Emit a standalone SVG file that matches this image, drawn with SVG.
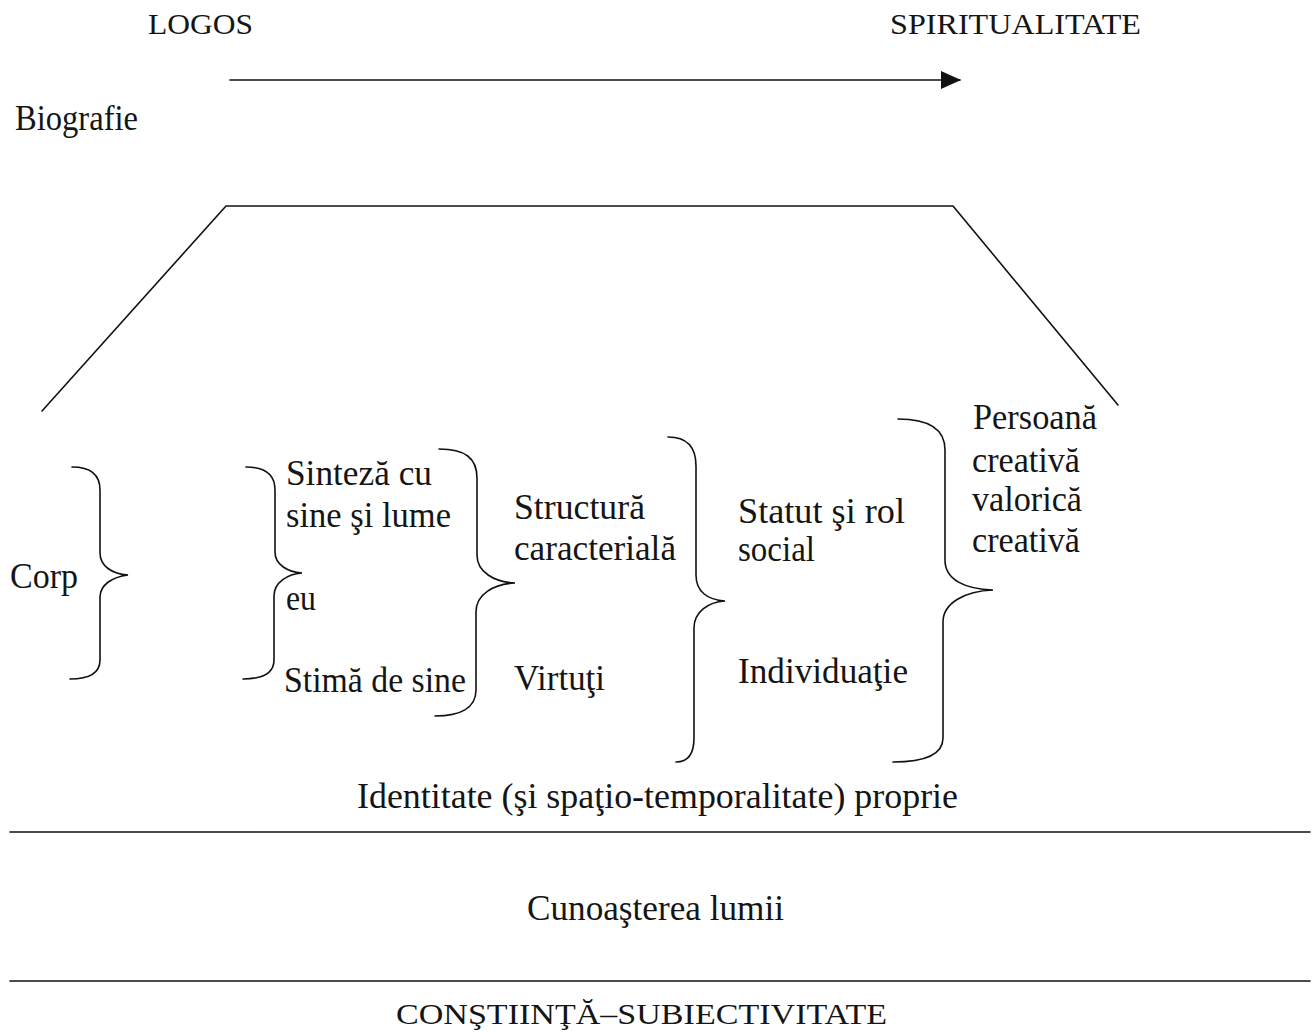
<svg xmlns="http://www.w3.org/2000/svg" width="1313" height="1032" viewBox="0 0 1313 1032">
  <style>
    text { font-family: "Liberation Serif", "DejaVu Serif", serif; fill: #151515; }
    .cap { font-size: 30px; }
    .lbl { font-size: 36px; }
    .ln { fill: none; stroke: #111; stroke-width: 1.6; stroke-linecap: round; stroke-linejoin: round; }
    .brace { fill: none; stroke: #111; stroke-width: 1.6; stroke-linecap: round; }
  </style>
  <defs>
    <marker id="head" viewBox="0 0 20 18" refX="19" refY="9" markerWidth="20" markerHeight="18" markerUnits="userSpaceOnUse" orient="auto">
      <path d="M0,0 L20,9 L0,18 Z" fill="#111"/>
    </marker>
  </defs>

  <rect width="1313" height="1032" fill="#fff"/>

  <!-- headings -->
  <g id="logos"><text class="cap" x="148" y="34" textLength="105" lengthAdjust="spacingAndGlyphs">LOGOS</text></g>
  <g id="spiritualitate"><text class="cap" x="890" y="34" textLength="251" lengthAdjust="spacingAndGlyphs">SPIRITUALITATE</text></g>
  <g id="biografie"><text class="lbl" x="15" y="130" textLength="123" lengthAdjust="spacingAndGlyphs">Biografie</text></g>

  <!-- connectors: direction arrow, frame, separators and braces -->
  <g id="connectors">
    <line class="ln" x1="230" y1="80" x2="960" y2="80" marker-end="url(#head)"/>
    <polyline class="ln" points="42,411 226,206 953,206 1118,405"/>
    <line class="ln" x1="10" y1="832" x2="1310" y2="832"/>
    <line class="ln" x1="10" y1="981" x2="1310" y2="981"/>

    <path class="brace" d="M72,467 C90,467 100,474 100,490 L100,553 C100,566 112,574 128,575 C112,577 100,585 100,597 L100,660 C100,674 88,679 70,679"/>
    <path class="brace" d="M246,467 C264,467 275,474 275,490 L275,552 C275,565 288,572 302,573 C288,574 274,582 274,596 L274,660 C274,674 262,679 243,679"/>
    <path class="brace" d="M439,449 C465,449 477,458 477,478 L477,555 C477,572 494,582 515,583 C494,584 476,594 476,612 L476,690 C476,708 460,716 435,716"/>
    <path class="brace" d="M668,437 C686,437 696,446 696,466 L696,575 C696,592 708,600 725,601 C708,602 694,612 694,628 L694,738 C694,754 688,762 676,762"/>
    <path class="brace" d="M898,419 C930,419 945,430 945,450 L945,560 C945,580 965,589 993,590 C965,591 943,603 943,622 L943,738 C943,755 925,762 893,762"/>
  </g>

  <!-- nodes -->
  <g id="corp"><text class="lbl" x="10" y="588" textLength="68" lengthAdjust="spacingAndGlyphs">Corp</text></g>

  <g id="sinteza">
    <text class="lbl" x="286" y="485" textLength="146" lengthAdjust="spacingAndGlyphs">Sinteză cu</text>
    <text class="lbl" x="286" y="527" textLength="165" lengthAdjust="spacingAndGlyphs">sine şi lume</text>
  </g>
  <g id="eu"><text class="lbl" x="286" y="610" textLength="30" lengthAdjust="spacingAndGlyphs">eu</text></g>
  <g id="stima"><text class="lbl" x="284" y="692" textLength="182" lengthAdjust="spacingAndGlyphs">Stimă de sine</text></g>

  <g id="structura">
    <text class="lbl" x="514" y="519" textLength="131" lengthAdjust="spacingAndGlyphs">Structură</text>
    <text class="lbl" x="514" y="560" textLength="162" lengthAdjust="spacingAndGlyphs">caracterială</text>
  </g>
  <g id="virtuti"><text class="lbl" x="514" y="690" textLength="91" lengthAdjust="spacingAndGlyphs">Virtuţi</text></g>

  <g id="statut">
    <text class="lbl" x="738" y="523" textLength="167" lengthAdjust="spacingAndGlyphs">Statut şi rol</text>
    <text class="lbl" x="738" y="561" textLength="77" lengthAdjust="spacingAndGlyphs">social</text>
  </g>
  <g id="individuatie"><text class="lbl" x="738" y="683" textLength="170" lengthAdjust="spacingAndGlyphs">Individuaţie</text></g>

  <g id="persoana">
    <text class="lbl" x="973" y="429" textLength="124" lengthAdjust="spacingAndGlyphs">Persoană</text>
    <text class="lbl" x="972" y="472" textLength="108" lengthAdjust="spacingAndGlyphs">creativă</text>
    <text class="lbl" x="972" y="511" textLength="110" lengthAdjust="spacingAndGlyphs">valorică</text>
    <text class="lbl" x="972" y="552" textLength="108" lengthAdjust="spacingAndGlyphs">creativă</text>
  </g>

  <g id="identitate"><text class="lbl" x="357" y="808" textLength="601" lengthAdjust="spacingAndGlyphs">Identitate (şi spaţio-temporalitate) proprie</text></g>
  <g id="cunoasterea"><text class="lbl" x="527" y="920" textLength="257" lengthAdjust="spacingAndGlyphs">Cunoaşterea lumii</text></g>
  <g id="constiinta"><text class="cap" x="396" y="1024" textLength="491" lengthAdjust="spacingAndGlyphs">CONŞTIINŢĂ–SUBIECTIVITATE</text></g>
</svg>
